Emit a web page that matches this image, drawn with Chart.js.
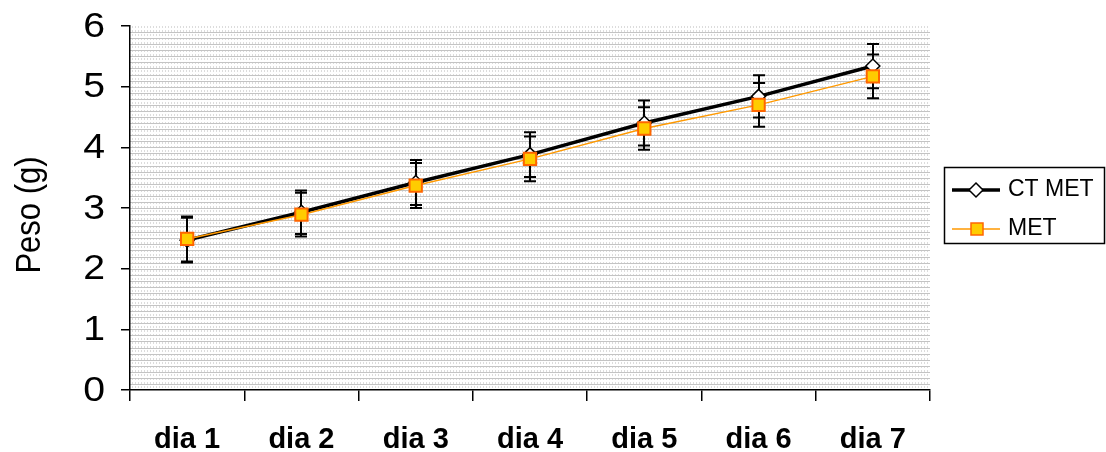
<!DOCTYPE html>
<html>
<head>
<meta charset="utf-8">
<script src="https://cdn.jsdelivr.net/npm/chart.js@4/dist/chart.umd.min.js"></script>
<style>
  html, body { margin: 0; padding: 0; background: #ffffff; }
  #wrap { width: 1106px; height: 452px; }
</style>
</head>
<body>
<div id="wrap"><canvas id="c" width="1106" height="452"></canvas></div>
<script>
// Daily body weight (g), two groups, with standard deviation
const categories = ['dia 1', 'dia 2', 'dia 3', 'dia 4', 'dia 5', 'dia 6', 'dia 7'];
const ctMet    = [2.47, 2.93, 3.42, 3.88, 4.40, 4.84, 5.34];
const ctMetErr = [0.37, 0.36, 0.37, 0.37, 0.37, 0.35, 0.365];
const met      = [2.49, 2.89, 3.37, 3.81, 4.31, 4.70, 5.17];
const metErr   = [0.37, 0.36, 0.37, 0.37, 0.35, 0.36, 0.36];
const yTicks   = [0, 1, 2, 3, 4, 5, 6];
const seriesNames = ['CT MET', 'MET'];
const yTitle = 'Peso (g)';

const FONT = '"Liberation Sans", Arial, sans-serif';

// Textured plot background: dotted verticals + fine horizontal rules every 0.1 g
const plotBackground = {
  id: 'plotBackground',
  beforeDraw(chart) {
    const { ctx, chartArea: a, scales: { y } } = chart;
    ctx.save();
    ctx.fillStyle = '#ffffff';
    ctx.fillRect(a.left, a.top, a.right - a.left, a.bottom - a.top);
    ctx.strokeStyle = '#dcdcdc';
    ctx.lineWidth = 1;
    ctx.setLineDash([2, 2]);
    ctx.beginPath();
    for (let x = a.left + 2; x < a.right; x += 3) {
      ctx.moveTo(x + 0.5, a.top);
      ctx.lineTo(x + 0.5, a.bottom);
    }
    ctx.stroke();
    ctx.setLineDash([]);
    ctx.strokeStyle = '#c4c4c4';
    ctx.beginPath();
    for (let i = 1; i < 60; i++) {
      const py = Math.round(y.getPixelForValue(i / 10)) + 0.5;
      ctx.moveTo(a.left, py);
      ctx.lineTo(a.right, py);
    }
    ctx.stroke();
    ctx.restore();
  }
};

// Vertical error bars with caps, drawn beneath the markers
const errorBars = {
  id: 'errorBars',
  beforeDatasetsDraw(chart) {
    const { ctx, scales: { x, y } } = chart;
    const sets = [[ctMet, ctMetErr], [met, metErr]];
    ctx.save();
    ctx.strokeStyle = '#000000';
    ctx.lineWidth = 2;
    sets.forEach(([vals, errs]) => {
      vals.forEach((v, i) => {
        const px = Math.round(x.getPixelForValue(i));
        const yTop = y.getPixelForValue(v + errs[i]);
        const yBot = y.getPixelForValue(v - errs[i]);
        ctx.beginPath();
        ctx.moveTo(px, yTop);
        ctx.lineTo(px, yBot);
        ctx.moveTo(px - 6, yTop);
        ctx.lineTo(px + 6, yTop);
        ctx.moveTo(px - 6, yBot);
        ctx.lineTo(px + 6, yBot);
        ctx.stroke();
      });
    });
    ctx.restore();
  }
};

// Value labels and axis title for the weight axis
const weightAxisText = {
  id: 'weightAxisText',
  afterDraw(chart) {
    const { ctx, scales: { y } } = chart;
    ctx.save();
    ctx.fillStyle = '#000000';
    ctx.textAlign = 'right';
    ctx.textBaseline = 'middle';
    ctx.font = '35px ' + FONT;
    yTicks.forEach(v => {
      ctx.save();
      ctx.translate(105, y.getPixelForValue(v) + 1);
      ctx.scale(1.12, 1);
      ctx.fillText(String(v), 0, 0);
      ctx.restore();
    });
    ctx.translate(30, 215);
    ctx.rotate(-Math.PI / 2);
    ctx.scale(1, 1.12);
    ctx.textAlign = 'center';
    ctx.font = '31px ' + FONT;
    ctx.fillText(yTitle, 0, 0);
    ctx.restore();
  }
};

// Boxed legend on the right
const boxLegend = {
  id: 'boxLegend',
  afterDraw(chart) {
    const { ctx } = chart;
    const bx = 944, by = 167, bw = 160, bh = 76;
    ctx.save();
    ctx.fillStyle = '#ffffff';
    ctx.fillRect(bx, by, bw, bh);
    ctx.strokeStyle = '#000000';
    ctx.lineWidth = 1.5;
    ctx.strokeRect(bx + 0.5, by + 0.5, bw, bh);

    // CT MET row
    let ry = 190;
    ctx.strokeStyle = '#000000';
    ctx.lineWidth = 3.5;
    ctx.beginPath(); ctx.moveTo(952, ry); ctx.lineTo(1000, ry); ctx.stroke();
    ctx.fillStyle = '#ffffff';
    ctx.lineWidth = 1.5;
    ctx.beginPath();
    ctx.moveTo(976, ry - 7); ctx.lineTo(983, ry); ctx.lineTo(976, ry + 7); ctx.lineTo(969, ry); ctx.closePath();
    ctx.fill(); ctx.stroke();

    // MET row
    ry = 229;
    ctx.strokeStyle = '#FF9900';
    ctx.lineWidth = 1.5;
    ctx.beginPath(); ctx.moveTo(952, ry); ctx.lineTo(1000, ry); ctx.stroke();
    ctx.fillStyle = '#FFCC00';
    ctx.strokeStyle = '#FF6600';
    ctx.fillRect(971, ry - 6, 12, 12);
    ctx.strokeRect(971, ry - 6, 12, 12);

    ctx.fillStyle = '#000000';
    ctx.font = '23px ' + FONT;
    ctx.textBaseline = 'middle';
    ctx.textAlign = 'left';
    ctx.fillText(seriesNames[0], 1008, 190);
    ctx.fillText(seriesNames[1], 1008, 229);
    ctx.restore();
  }
};

new Chart(document.getElementById('c'), {
  type: 'line',
  data: {
    labels: categories,
    datasets: [
      {
        label: seriesNames[0],
        data: ctMet,
        borderColor: '#000000',
        borderWidth: 3.5,
        pointStyle: 'rectRot',
        pointRadius: 7,
        pointBackgroundColor: '#ffffff',
        pointBorderColor: '#000000',
        pointBorderWidth: 1.5,
        tension: 0,
        order: 2
      },
      {
        label: seriesNames[1],
        data: met,
        borderColor: '#FF9900',
        borderWidth: 1.5,
        pointStyle: 'rect',
        pointRadius: 8.7,
        pointBackgroundColor: '#FFCC00',
        pointBorderColor: '#FF6600',
        pointBorderWidth: 2,
        tension: 0,
        order: 1
      }
    ]
  },
  options: {
    responsive: false,
    animation: false,
    events: [],
    layout: { padding: { top: 26, right: 176, bottom: 0, left: 0 } },
    plugins: { legend: { display: false }, tooltip: { enabled: false } },
    scales: {
      x: {
        type: 'category',
        offset: true,
        afterFit(s) { s.height = 62; },
        grid: {
          offset: true,
          drawOnChartArea: false,
          drawTicks: true,
          tickLength: 11,
          color: '#000000',
          lineWidth: 1.5
        },
        border: { display: true, color: '#000000', width: 1.5 },
        ticks: {
          color: '#000000',
          padding: 22,
          maxRotation: 0,
          font: { family: FONT, size: 29, weight: 'bold' }
        }
      },
      y: {
        min: 0,
        max: 6,
        afterFit(s) { s.width = 130; },
        afterBuildTicks(s) { s.ticks = yTicks.map(v => ({ value: v })); },
        grid: {
          drawOnChartArea: false,
          drawTicks: true,
          tickLength: 9,
          color: '#000000',
          lineWidth: 1.5
        },
        border: { display: true, color: '#000000', width: 1.5 },
        ticks: { display: false },
        title: { display: false }
      }
    }
  },
  plugins: [plotBackground, errorBars, weightAxisText, boxLegend]
});
</script>
</body>
</html>
